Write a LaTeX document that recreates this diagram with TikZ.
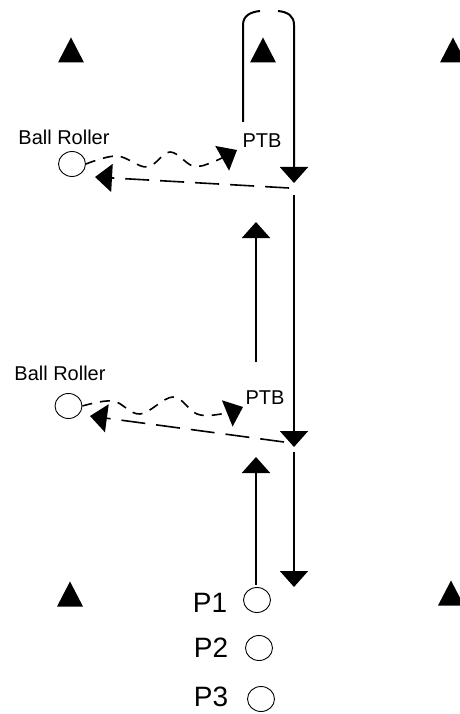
\documentclass[tikz,border=0pt]{standalone}
\usepackage{fontspec}
\setmainfont{Liberation Sans}
\usetikzlibrary{arrows.meta,shapes.geometric}

\begin{document}
\begin{tikzpicture}[x=1pt,y=-1pt]
\tikzstyle{run}=[line width=2pt,-{Triangle[width=28pt,length=16pt]}]
\tikzstyle{pass}=[line width=1.6pt,dash pattern=on 24pt off 11pt,-{Triangle[width=28pt,length=17pt]}]
\tikzstyle{roll}=[line width=1.6pt,dash pattern=on 10pt off 8pt,-{Triangle[width=28pt,length=17pt]}]
\tikzstyle{spot}=[ellipse,draw,line width=0.9pt,minimum width=27pt,minimum height=25pt,inner sep=0pt]
\tikzstyle{lbl}=[inner sep=0pt,font=\fontsize{20}{24}\selectfont]
\tikzstyle{plbl}=[inner sep=0pt,font=\fontsize{28}{32}\selectfont]
\tikzset{cone/.pic={\fill (-13,12.5) -- (13,12.5) -- (0,-12.5) -- cycle;}}
\useasboundingbox (0,0) rectangle (459,714);

% cones
\pic at (71,50) {cone};
\pic at (263,50) {cone};
\pic at (453,50) {cone};
\pic at (70,594) {cone};
\pic at (451,593) {cone};

% players
\node[lbl] (roller1) at (64,137) {Ball Roller};
\node[spot] (br1) at (72,164) {};
\node[lbl] (ptb1) at (262,141) {PTB};
\node[lbl] (roller2) at (60,373) {Ball Roller};
\node[spot] (br2) at (68.5,406) {};
\node[lbl] (ptb2) at (265,398) {PTB};
\node[plbl] (p1) at (210,603) {P1};
\node[spot] (p1c) at (257,600) {};
\node[plbl] (p2) at (211,648) {P2};
\node[spot] (p2c) at (259,648) {};
\node[plbl] (p3) at (211,697) {P3};
\node[spot] (p3c) at (261,699) {};

% runs
\coordinate (loopa) at (243,122);
\coordinate (loopb) at (294,183);
\coordinate (run2a) at (294,195);
\coordinate (run2b) at (294,447);
\coordinate (run3a) at (294,452);
\coordinate (run3b) at (294,587);
\coordinate (up1a) at (256,362);
\coordinate (up1b) at (256,222);
\coordinate (up2a) at (256,585);
\coordinate (up2b) at (256,457);
\draw[run] (loopa) -- (243,25) .. controls (243,16) and (250,12) .. (260,11)
  (278,11) .. controls (288,12) and (294,16) .. (294,25) -- (loopb);
\draw[run] (run2a) -- (run2b);
\draw[run] (run3a) -- (run3b);
\draw[run] (up1a) -- (up1b);
\draw[run] (up2a) -- (up2b);

% passes
\coordinate (pass1a) at (289,188);
\coordinate (pass2a) at (284,442);
\draw[pass] (pass1a) -- (95,177);
\draw[pass] (pass2a) -- (90,416);

% rolls
\draw[roll] plot[smooth,tension=0.6] coordinates {(br1.east) (117,156) (147,167) (170,152) (193,166) (213,162) (237,150)};
\draw[roll] plot[smooth,tension=0.6] coordinates {(br2.east) (113,401) (140,414) (173,397) (197,414) (221,414) (243,407)};
\end{tikzpicture}
\end{document}
